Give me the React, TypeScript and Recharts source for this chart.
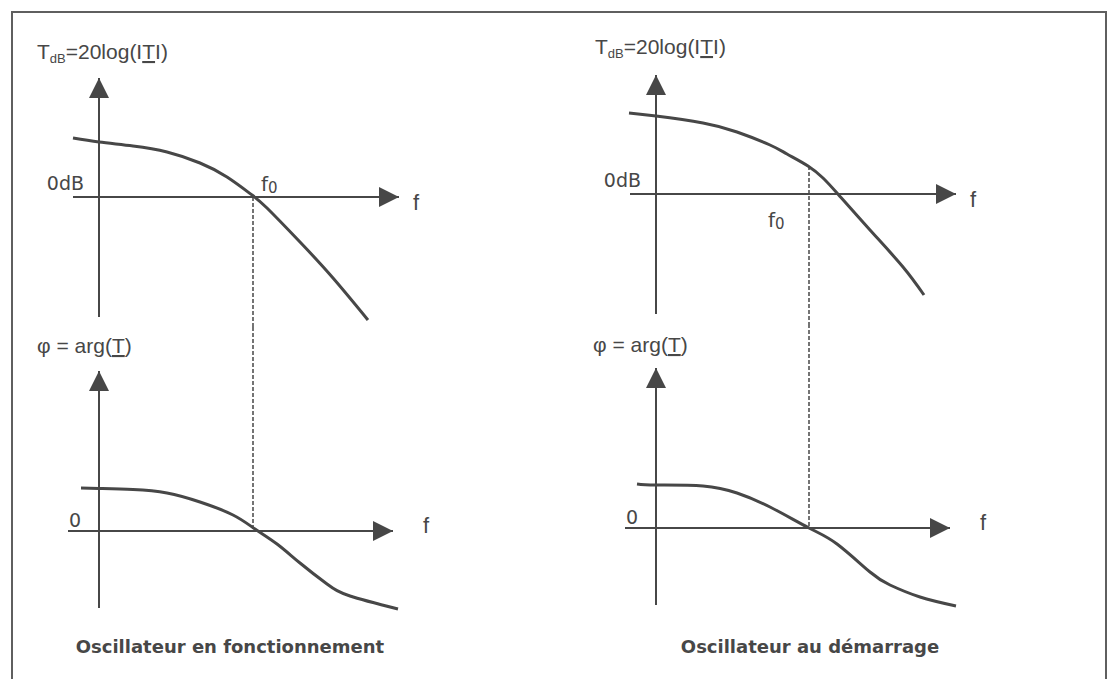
import React from "react";
import { LineChart, Line, XAxis, YAxis, ReferenceLine, ReferenceDot } from "recharts";

// Units are arbitrary (sketch of Bode diagrams). Origin of every subplot = crossing of its axes.

// left panel: "Oscillateur en fonctionnement"
const magFreqLeft = [-2.6, 0, 3.4, 6.8, 10.1, 12.8, 15.3, 16.8, 20.1, 23.4, 26.9];
const magLeft = [5.9, 5.5, 5.1, 4.5, 3.4, 2.0, 0.2, -1.1, -4.5, -8.1, -12.3];
const phaseFreqLeft = [-1.8, 0, 3.4, 6.8, 10.1, 13.4, 15.6, 17.8, 20.1, 22.8, 25.1, 29.9];
const phaseLeft = [4.3, 4.25, 4.15, 3.8, 2.9, 1.6, 0.2, -1.3, -3.2, -5.3, -6.5, -7.8];
const f0Left = 15.4;
const f0MagLeft = 0;

// right panel: "Oscillateur au démarrage"
const magFreqRight = [-2.7, 0, 4.7, 8.1, 11.4, 13.1, 15.2, 16.7, 18.1, 21.4, 24.7, 26.8];
const magRight = [8.1, 7.8, 7.1, 6.2, 4.9, 4.0, 2.8, 1.6, 0.1, -3.6, -7.3, -10.1];
const phaseFreqRight = [-1.9, 0, 4.7, 8.1, 11.4, 15.3, 18.1, 21.4, 23.4, 26.4, 30.0];
const phaseRight = [4.4, 4.3, 4.2, 3.5, 2.1, 0.0, -1.6, -4.4, -5.7, -6.9, -7.8];
const f0Right = 15.3;
const f0MagRight = 2.8;

// axis extents [start, arrow tip]
const magXSpan = [-2.6, 30.0];
const magYSpan = [-12.0, 11.9];
const phaseXSpan = [-3.1, 29.4];
const phaseYSpan = [-7.7, 16.0];

const captions = ["Oscillateur en fonctionnement", "Oscillateur au démarrage"];

const INK = "#474747";
const UNIT = 10; // px per unit
const X_DOMAIN: [number, number] = [-7, 35];
const MAG_DOMAIN: [number, number] = [-13, 17];
const PHASE_DOMAIN: [number, number] = [-9, 20.4];
const ARIAL = "'Liberation Sans', Arial, sans-serif";
const COMIC = "'Comic Sans MS', 'DejaVu Sans', sans-serif";

const magTitle = (
  <>
    <tspan>T</tspan>
    <tspan fontSize={13} dy={4}>dB</tspan>
    <tspan dy={-4}>=20log(I</tspan>
    <tspan textDecoration="underline">T</tspan>
    <tspan>I)</tspan>
  </>
);

const phaseTitle = (
  <>
    <tspan>φ = arg(</tspan>
    <tspan textDecoration="underline">T</tspan>
    <tspan>)</tspan>
  </>
);

type PlotProps = {
  left: number;
  top: number;
  yDomain: [number, number];
  freqs: number[];
  values: number[];
  xSpan: number[];
  ySpan: number[];
  dash: { x: number; from: number; to: number };
  title: React.ReactNode;
  titleOff: [number, number];
  zeroText: string;
  zeroOff: [number, number];
  fOff: [number, number];
  f0Off?: [number, number];
};

function Plot(p: PlotProps) {
  const data = p.freqs.map((f, i) => ({ f, v: p.values[i] }));
  const width = (X_DOMAIN[1] - X_DOMAIN[0]) * UNIT;
  const height = (p.yDomain[1] - p.yDomain[0]) * UNIT;

  return (
    <div style={{ position: "absolute", left: p.left, top: p.top }}>
      <LineChart width={width} height={height} data={data} margin={{ top: 0, right: 0, bottom: 0, left: 0 }}>
        <XAxis type="number" dataKey="f" domain={X_DOMAIN} hide allowDataOverflow />
        <YAxis type="number" domain={p.yDomain} hide allowDataOverflow />
        <ReferenceLine
          segment={[{ x: p.xSpan[0], y: 0 }, { x: p.xSpan[1], y: 0 }]}
          stroke={INK}
          strokeWidth={2}
          ifOverflow="visible"
        />
        <ReferenceLine
          segment={[{ x: 0, y: p.ySpan[0] }, { x: 0, y: p.ySpan[1] }]}
          stroke={INK}
          strokeWidth={2}
          ifOverflow="visible"
        />
        <ReferenceLine
          segment={[{ x: p.dash.x, y: p.dash.from }, { x: p.dash.x, y: p.dash.to }]}
          stroke={INK}
          strokeWidth={1.5}
          strokeDasharray="4 2"
          ifOverflow="visible"
        />
        <Line
          dataKey="v"
          type="natural"
          stroke={INK}
          strokeWidth={3}
          dot={false}
          isAnimationActive={false}
        />
        {/* y arrow + title */}
        <ReferenceDot
          x={0}
          y={p.ySpan[1]}
          ifOverflow="visible"
          shape={(s: any) => (
            <g>
              <polygon points={`${s.cx},${s.cy} ${s.cx - 10},${s.cy + 20} ${s.cx + 10},${s.cy + 20}`} fill={INK} />
              <text x={s.cx + p.titleOff[0]} y={s.cy + p.titleOff[1]} fontFamily={ARIAL} fontSize={21} fill={INK}>
                {p.title}
              </text>
            </g>
          )}
        />
        {/* x arrow + f */}
        <ReferenceDot
          x={p.xSpan[1]}
          y={0}
          ifOverflow="visible"
          shape={(s: any) => (
            <g>
              <polygon points={`${s.cx},${s.cy} ${s.cx - 20},${s.cy - 10} ${s.cx - 20},${s.cy + 10}`} fill={INK} />
              <text x={s.cx + p.fOff[0]} y={s.cy + p.fOff[1]} fontFamily={ARIAL} fontSize={22} fill={INK}>
                f
              </text>
            </g>
          )}
        />
        {/* zero label */}
        <ReferenceDot
          x={0}
          y={0}
          ifOverflow="visible"
          shape={(s: any) => (
            <text
              x={s.cx + p.zeroOff[0]}
              y={s.cy + p.zeroOff[1]}
              textAnchor="end"
              fontFamily={COMIC}
              fontSize={19}
              fill={INK}
            >
              {p.zeroText}
            </text>
          )}
        />
        {p.f0Off && (
          <ReferenceDot
            x={p.dash.x}
            y={0}
            ifOverflow="visible"
            shape={(s: any) => (
              <text x={s.cx + p.f0Off![0]} y={s.cy + p.f0Off![1]} fontFamily={COMIC} fontSize={20} fill={INK}>
                f<tspan fontSize={15} dy={2}>0</tspan>
              </text>
            )}
          />
        )}
      </LineChart>
    </div>
  );
}

function Panel(props: {
  originX: number;
  magOriginY: number;
  freqs: number[];
  mag: number[];
  phaseFreqs: number[];
  phase: number[];
  f0: number;
  f0Mag: number;
  f0Off: [number, number];
  titleOff: [number, number];
  phaseTitleOff: [number, number];
}) {
  const left = props.originX + X_DOMAIN[0] * UNIT;
  const magTop = props.magOriginY - MAG_DOMAIN[1] * UNIT;
  const phaseTop = magTop + (MAG_DOMAIN[1] - MAG_DOMAIN[0]) * UNIT;
  return (
    <>
      <Plot
        left={left}
        top={magTop}
        yDomain={MAG_DOMAIN}
        freqs={props.freqs}
        values={props.mag}
        xSpan={magXSpan}
        ySpan={magYSpan}
        dash={{ x: props.f0, from: props.f0Mag, to: MAG_DOMAIN[0] }}
        title={magTitle}
        titleOff={props.titleOff}
        zeroText="0dB"
        zeroOff={[-15, -7]}
        fOff={[14, 13]}
        f0Off={props.f0Off}
      />
      <Plot
        left={left}
        top={phaseTop}
        yDomain={PHASE_DOMAIN}
        freqs={props.phaseFreqs}
        values={props.phase}
        xSpan={phaseXSpan}
        ySpan={phaseYSpan}
        dash={{ x: props.f0, from: PHASE_DOMAIN[1], to: 0 }}
        title={phaseTitle}
        titleOff={props.phaseTitleOff}
        zeroText="0"
        zeroOff={[-18, -4]}
        fOff={[30, 2]}
      />
    </>
  );
}

export default function App() {
  const captionStyle: React.CSSProperties = {
    position: "absolute",
    top: 636,
    width: 400,
    textAlign: "center",
    fontFamily: COMIC,
    fontWeight: "bold",
    fontSize: 18,
    lineHeight: "22px",
    color: INK,
  };
  return (
    <div
      style={{
        position: "absolute",
        left: 0,
        top: 0,
        width: 1112,
        height: 679,
        overflow: "hidden",
        background: "#fff",
      }}
    >
      <div
        style={{
          position: "absolute",
          left: 11,
          top: 11,
          width: 1092,
          height: 700,
          border: "2px solid #5f5f5f",
          borderBottom: "none",
        }}
      />
      <Panel
        originX={99}
        magOriginY={197}
        freqs={magFreqLeft}
        mag={magLeft}
        phaseFreqs={phaseFreqLeft}
        phase={phaseLeft}
        f0={f0Left}
        f0Mag={f0MagLeft}
        f0Off={[8, -6]}
        titleOff={[-62, -19]}
        phaseTitleOff={[-62, -18]}
      />
      <Panel
        originX={656}
        magOriginY={194}
        freqs={magFreqRight}
        mag={magRight}
        phaseFreqs={phaseFreqRight}
        phase={phaseRight}
        f0={f0Right}
        f0Mag={f0MagRight}
        f0Off={[-41, 33]}
        titleOff={[-61, -21]}
        phaseTitleOff={[-63, -16]}
      />
      <div style={{ ...captionStyle, left: 30 }}>{captions[0]}</div>
      <div style={{ ...captionStyle, left: 610 }}>{captions[1]}</div>
    </div>
  );
}
